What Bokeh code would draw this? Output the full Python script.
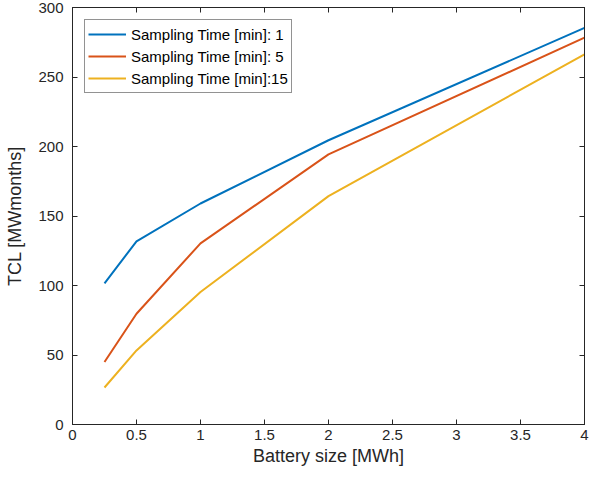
from bokeh.plotting import figure
from bokeh.embed import file_html
from bokeh.resources import INLINE
from bokeh.models import LinearAxis, Range1d, FixedTicker, Legend, LegendItem

battery = [0.25, 0.5, 1, 2, 4]
tcl_1 = [101.5, 131.8, 159.0, 204.5, 285.3]
tcl_5 = [45.0, 79.7, 130.3, 194.3, 278.3]
tcl_15 = [26.6, 53.3, 95.3, 164.3, 266.3]
labels = ["Sampling Time [min]: 1", "Sampling Time [min]: 5", "Sampling Time [min]:15"]
colors = ["#0072BD", "#D95319", "#EDB120"]
xticks = [0, 0.5, 1, 1.5, 2, 2.5, 3, 3.5, 4]
yticks = [0, 50, 100, 150, 200, 250, 300]

FONT = "Liberation Sans"
AX = "#262626"

p = figure(width=592, height=468, output_backend="svg", toolbar_location=None,
           x_range=Range1d(0, 4), y_range=Range1d(0, 300),
           min_border_left=72, min_border_right=8, min_border_top=7, min_border_bottom=44,
           x_axis_label="Battery size [MWh]", y_axis_label="TCL [MWmonths]")
p.xgrid.visible = False
p.ygrid.visible = False
p.outline_line_color = AX
p.outline_line_width = 1

items = []
for ys, lab, c in zip([tcl_1, tcl_5, tcl_15], labels, colors):
    r = p.line(battery, ys, line_color=c, line_width=2)
    items.append(LegendItem(label=lab, renderers=[r]))

def style(ax):
    ax.major_tick_in = 5
    ax.major_tick_out = 0
    ax.minor_tick_in = 0
    ax.minor_tick_out = 0
    ax.axis_line_color = AX
    ax.major_tick_line_color = AX
    ax.major_label_text_font = FONT
    ax.major_label_text_font_size = "15px"
    ax.major_label_text_color = AX
    ax.axis_label_text_font = FONT
    ax.axis_label_text_font_size = "18px"
    ax.axis_label_text_font_style = "normal"
    ax.axis_label_text_color = AX

for ax in p.xaxis:
    ax.ticker = FixedTicker(ticks=xticks)
    ax.major_label_overrides = {0: "0", 1: "1", 2: "2", 3: "3", 4: "4"}
    style(ax)
    ax.major_label_standoff = 5
    ax.axis_label_standoff = 3
for ax in p.yaxis:
    ax.ticker = FixedTicker(ticks=yticks)
    style(ax)
    ax.major_label_standoff = 9
    ax.axis_label_standoff = 10

top = LinearAxis(ticker=FixedTicker(ticks=xticks))
right = LinearAxis(ticker=FixedTicker(ticks=yticks))
style(top)
style(right)
top.major_label_overrides = {t: "" for t in xticks}
right.major_label_overrides = {t: "" for t in yticks}
top.major_label_standoff = 0
right.major_label_standoff = 0
p.add_layout(top, "above")
p.add_layout(right, "right")

legend = Legend(items=items, location="top_left")
legend.label_text_font = FONT
legend.label_text_font_size = "15px"
legend.label_text_color = "black"
legend.border_line_color = AX
legend.border_line_width = 1
legend.glyph_width = 38
legend.label_standoff = 5
legend.spacing = 0
legend.padding = 3
legend.margin = 12
legend.label_height = 22
legend.glyph_height = 22
p.add_layout(legend)

open("out.html", "w").write(file_html(p, INLINE))
